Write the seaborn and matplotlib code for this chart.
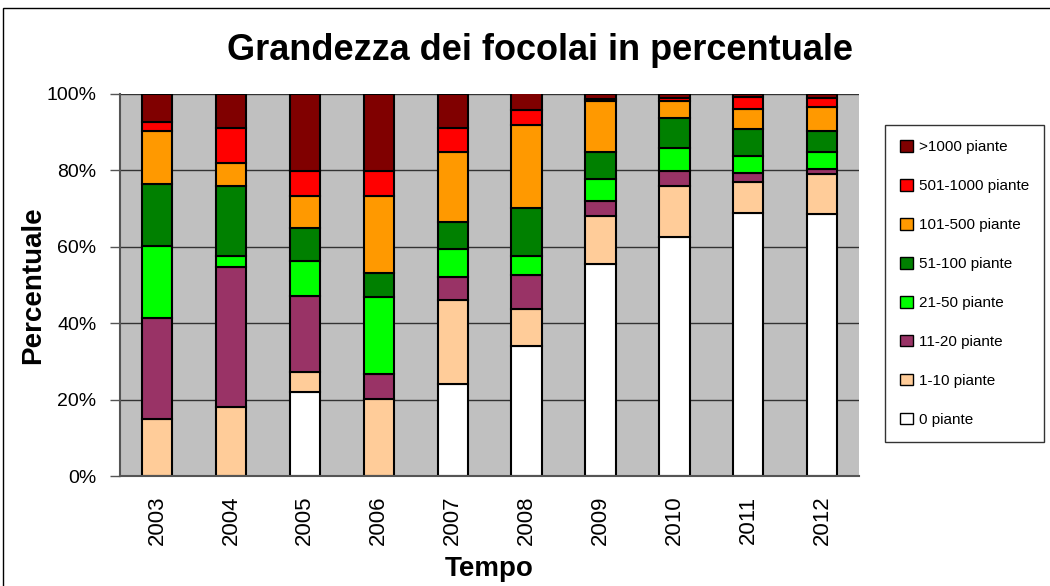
import numpy as np
import pandas as pd
import matplotlib
matplotlib.use('Agg')
import matplotlib.pyplot as plt
import seaborn as sns
from matplotlib.patches import Patch, Rectangle

# data (percent of outbreaks per size class)
years = [2003, 2004, 2005, 2006, 2007, 2008, 2009, 2010, 2011, 2012]
classes = ['>1000 piante', '501-1000 piante', '101-500 piante', '51-100 piante',
           '21-50 piante', '11-20 piante', '1-10 piante', '0 piante']
p0 = [0.0, 0.0, 22.1, 0.0, 24.1, 33.9, 55.6, 62.5, 68.9, 68.5]
p1_10 = [14.8, 18.1, 5.0, 20.1, 22.0, 9.9, 12.4, 13.4, 8.1, 10.5]
p11_20 = [26.6, 36.6, 20.1, 6.5, 6.0, 8.9, 4.0, 4.0, 2.4, 1.4]
p21_50 = [18.8, 2.9, 9.0, 20.2, 7.4, 4.8, 5.8, 5.9, 4.4, 4.5]
p51_100 = [16.2, 18.3, 8.8, 6.4, 7.0, 12.7, 7.1, 7.9, 7.0, 5.5]
p101_500 = [13.8, 5.9, 8.4, 20.2, 18.3, 21.6, 13.2, 4.5, 5.3, 6.3]
p501_1000 = [2.4, 9.4, 6.5, 6.5, 6.4, 4.0, 0.6, 0.7, 3.2, 2.2]
p1000 = [7.4, 8.8, 20.1, 20.1, 8.8, 4.4, 1.3, 1.1, 0.7, 1.1]
colors = ['#800000', '#FF0000', '#FF9900', '#008000',
          '#00FF00', '#993366', '#FFCC99', '#FFFFFF']

series = [p1000, p501_1000, p101_500, p51_100, p21_50, p11_20, p1_10, p0]
rows = []
for cls, vals in zip(classes, series):
    for y, v in zip(years, vals):
        rows.append({'Anno': y, 'Classe': cls, 'Pct': v})
df = pd.DataFrame(rows)

sns.set_style('white')
plt.rcParams['font.family'] = ['Liberation Sans', 'DejaVu Sans']
plt.rcParams['text.color'] = 'black'
plt.rcParams['axes.labelcolor'] = 'black'
plt.rcParams['xtick.color'] = 'black'
plt.rcParams['ytick.color'] = 'black'

fig = plt.figure(figsize=(10.5, 5.86), dpi=100)
ax = fig.add_axes([0.1143, 0.1877, 0.704, 0.652])
ax.set_facecolor('#C0C0C0')

# stacked bars: histplot stacks last hue level at the bottom
sns.histplot(
    data=df, x='Anno', hue='Classe', weights='Pct',
    hue_order=classes, palette=colors,
    multiple='stack', discrete=True, shrink=0.41,
    edgecolor='black', linewidth=1.5, alpha=1, legend=False, ax=ax
)

ax.set_xlim(2002.5, 2012.5)
ax.set_ylim(0, 100)
ax.set_yticks([0, 20, 40, 60, 80, 100])
ax.set_yticklabels(['0%', '20%', '40%', '60%', '80%', '100%'], fontsize=14)
ax.set_xticks(years)
ax.set_xticklabels([str(y) for y in years], rotation=90, fontsize=16)
ax.set_xticks(np.arange(2002.5, 2013, 1), minor=True)
ax.tick_params(axis='x', which='major', length=0, pad=14)
ax.tick_params(axis='x', which='minor', length=7, width=1, direction='out', color='#555555')
ax.tick_params(axis='y', length=7, width=1, direction='out', color='#555555',
               left=True, pad=10)
ax.yaxis.grid(True, color='#333333', linewidth=1)
ax.set_axisbelow(True)
for s in ['top', 'right']:
    ax.spines[s].set_visible(False)
ax.spines['left'].set_color('#555555')
ax.spines['bottom'].set_color('#555555')
ax.spines['left'].set_linewidth(1.5)
ax.spines['bottom'].set_linewidth(1.5)

ax.set_xlabel('Tempo', fontsize=20, fontweight='bold', labelpad=8)
ax.set_ylabel('Percentuale', fontsize=20, fontweight='bold', labelpad=0)

fig.text(540 / 1050, 1 - 50 / 586, 'Grandezza dei focolai in percentuale',
         ha='center', va='center', fontsize=26, fontweight='bold')

handles = [Patch(facecolor=c, edgecolor='black', linewidth=1) for c in colors]
leg = fig.legend(handles, classes, loc='upper left',
                 bbox_to_anchor=(885 / 1050, 1 - 125 / 586),
                 borderaxespad=0, fontsize=11, frameon=True, fancybox=False,
                 labelspacing=1.62, handlelength=0.8, handleheight=0.8,
                 handletextpad=0.4, borderpad=1.0)
leg.get_frame().set_edgecolor('black')
leg.get_frame().set_linewidth(1)

# outer frame around the chart
fig.add_artist(Rectangle((3 / 1050, -0.05), 1.1, (586 - 8) / 586 + 0.05,
                         transform=fig.transFigure, fill=False,
                         edgecolor='black', linewidth=1))

fig.savefig('out.png', dpi=100)
